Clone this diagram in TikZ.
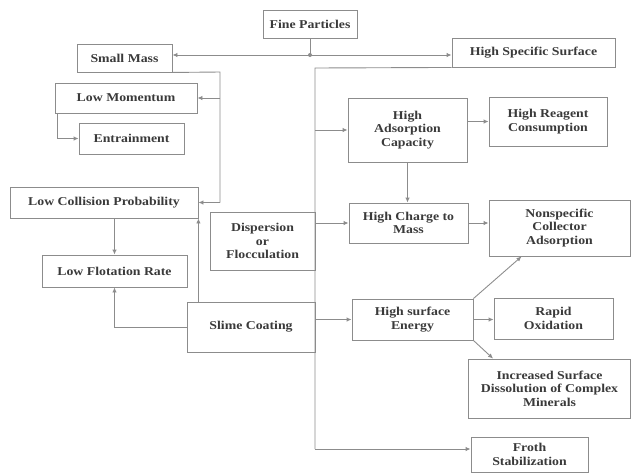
\documentclass[tikz,border=0pt]{standalone}
\usepackage{fontspec}
\setmainfont{Liberation Serif}[FakeStretch=1.15]
\usepackage{tikz}
\usetikzlibrary{arrows.meta}
\definecolor{LineGray}{HTML}{8C8C8C}
\definecolor{TextGray}{HTML}{3A3A3A}
\tikzset{
  box/.style={draw=LineGray, line width=0.9pt, align=center, inner sep=2pt,
              text=TextGray, font=\bfseries\fontsize{12}{13.5}\selectfont},
  link/.style={draw=LineGray, line width=0.9pt},
  flow/.style={link, -{Latex[length=5pt,width=4.5pt]}}
}
\begin{document}
\begin{tikzpicture}[x=1pt, y=-1pt]
  \useasboundingbox (0,0) rectangle (631,475);
  % left column
  \node[box, minimum width=94pt, minimum height=28pt] (fine) at (310,24) {Fine Particles};
  \node[box, minimum width=95pt, minimum height=28pt] (small) at (124.5,58) {Small Mass};
  \node[box, minimum width=163pt, minimum height=29pt] (hss) at (533.5,52.5) {High Specific Surface};
  \node[box, minimum width=142pt, minimum height=30pt] (lowmom) at (126,98) {Low Momentum};
  \node[box, minimum width=105pt, minimum height=31pt] (entr) at (131.5,138.5) {Entrainment};
  \node[box, minimum width=188pt, minimum height=31pt] (lcp) at (104,202.5) {Low Collision Probability};
  \node[box, minimum width=145pt, minimum height=32pt] (lfr) at (114.5,271) {Low Flotation Rate};
  \node[box, minimum width=105pt, minimum height=58pt] (disp) at (262.5,241) {Dispersion\\or\\Flocculation};
  \node[box, minimum width=128pt, minimum height=50pt] (slime) at (251,327) {Slime Coating};
  % right column
  \node[box, minimum width=119pt, minimum height=64pt] (hac) at (407.5,130) {High\\Adsorption\\Capacity};
  \node[box, minimum width=118pt, minimum height=49pt] (hrc) at (548,121.5) {High Reagent\\Consumption};
  \node[box, minimum width=119pt, minimum height=40pt] (hcm) at (408.5,223) {High Charge to\\Mass};
  \node[box, minimum width=141pt, minimum height=56pt] (nca) at (559.5,228) {Nonspecific\\Collector\\Adsorption};
  \node[box, minimum width=121pt, minimum height=41pt] (hse) at (412.5,319.5) {High surface\\Energy};
  \node[box, minimum width=119pt, minimum height=41pt] (rox) at (553.5,318.5) {Rapid\\Oxidation};
  \node[box, minimum width=162pt, minimum height=59pt] (isd) at (549.5,388.5) {Increased Surface\\Dissolution of Complex\\Minerals};
  \node[box, minimum width=117pt, minimum height=35pt] (froth) at (529.5,454.5) {Froth\\Stabilization};

  % fine particles split
  \coordinate (split) at (310,55);
  \draw[link] (fine) -- (split);
  \fill[LineGray] (split) circle (2pt);
  \draw[flow] (split) -- (split -| small.east);
  \draw[flow] (split) -- (split -| hss.west);

  % small mass branch
  \coordinate (smturn) at (220,72);
  \draw[link] (small.south east) -- (smturn) -- (smturn |- lcp.east);
  \draw[flow] (smturn |- lowmom.east) -- (lowmom.east);
  \draw[flow] (smturn |- lcp.east) -- (lcp.east);
  \draw[flow] ([xshift=3pt]lowmom.south west) |- (entr.west);
  \draw[flow] (lcp.south -| lfr.north) -- (lfr.north);
  \draw[flow] (slime.west) -| (lfr.south);
  \draw[flow] (slime.north -| lcp.south east) -- (lcp.south east);

  % specific surface trunk
  \coordinate (trtop) at (315,68);
  \coordinate (trbot) at (315,449);
  \draw[link] (hss.south west) -- (trtop) -- (trbot);
  \draw[flow] (trbot) -- (trbot -| froth.west);
  \draw[flow] (trtop |- hac.west) -- (hac.west);
  \draw[flow] (trtop |- hcm.west) -- (hcm.west);
  \draw[flow] (trtop |- hse.west) -- (hse.west);

  \draw[flow] (hac.east |- hrc.west) -- (hrc.west);
  \draw[flow] (hac.south) -- (hac.south |- hcm.north);
  \draw[flow] (hcm.east) -- (hcm.east -| nca.west);
  \draw[flow] (hse.north east) -- ([xshift=33pt]nca.south west);
  \draw[flow] (hse.east) -- (hse.east -| rox.west);
  \draw[flow] (hse.south east) -- ([xshift=25pt]isd.north west);
\end{tikzpicture}
\end{document}
